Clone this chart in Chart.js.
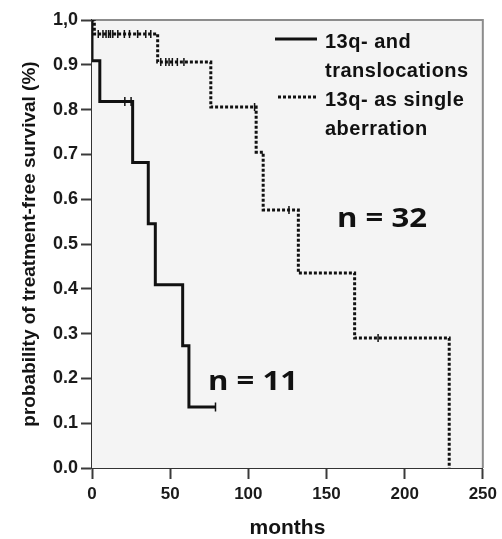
<!DOCTYPE html>
<html lang="en">
<head>
    <meta charset="UTF-8">
    <title>Treatment-free survival</title>
    <script src="https://cdn.jsdelivr.net/npm/chart.js"></script>
    <style>
        html, body { margin: 0; padding: 0; background: #fff; }
        #box { width: 502px; height: 539px; }
    </style>
</head>
<body>
    <div id="box">
        <canvas id="myChart" width="502" height="539"></canvas>
    </div>
</body>
</html>
<script>

    // 13q- and translocations (n = 11)
    const transMonths = [0, 0, 5, 26, 36, 40.5, 58, 62, 79];
    const transSurv   = [1, 0.909, 0.818, 0.682, 0.545, 0.409, 0.273, 0.136, 0.136];
    const transCensMonths = [21, 25, 79];
    const transCensSurv   = [0.818, 0.818, 0.136];

    // 13q- as single aberration (n = 32)
    const singleMonths = [0, 1.5, 42, 76, 105, 109.5, 132, 168, 228.5];
    const singleSurv   = [1, 0.969, 0.906, 0.806, 0.705, 0.576, 0.435, 0.29, 0];
    const singleCensMonths = [4, 7, 9, 10.6, 11.8, 13.3, 16.5, 20.7, 24, 29.2, 34.4, 37.6,
                              44, 47.2, 49.3, 51.4, 54.6, 58.8, 104, 126, 183];
    const singleCensSurv   = [0.969, 0.969, 0.969, 0.969, 0.969, 0.969, 0.969, 0.969, 0.969, 0.969, 0.969, 0.969,
                              0.906, 0.906, 0.906, 0.906, 0.906, 0.906, 0.806, 0.576, 0.29];

    const xTicks = [0, 50, 100, 150, 200, 250];
    const yTicks = [0, 0.1, 0.2, 0.3, 0.4, 0.5, 0.6, 0.7, 0.8, 0.9, 1.0];

    const legendLabels = [["13q- and", "translocations"], ["13q- as single", "aberration"]];
    const groupSizes = ["n = 11", "n = 32"];

    const pts = (xs, ys) => xs.map((x, i) => ({ x: x, y: ys[i] }));
    const ink = '#111';

    Chart.defaults.font.family = '"Liberation Sans", Arial, sans-serif';
    Chart.defaults.font.weight = 'bold';
    Chart.defaults.color = '#141414';

    const panel = {
        id: 'panel',
        beforeDatasetsDraw(chart) {
            const a = chart.chartArea, ctx = chart.ctx;
            ctx.save();
            ctx.fillStyle = '#f4f4f4';
            ctx.fillRect(a.left, a.top, a.right - a.left, a.bottom - a.top);
            ctx.strokeStyle = '#8c8c8c';
            ctx.lineWidth = 2;
            ctx.beginPath();
            ctx.moveTo(a.left, a.top);
            ctx.lineTo(a.right, a.top);
            ctx.lineTo(a.right, a.bottom);
            ctx.stroke();
            ctx.restore();
        },
        afterDraw(chart) {
            const a = chart.chartArea, ctx = chart.ctx;
            ctx.save();
            // legend
            ctx.strokeStyle = ink;
            ctx.lineWidth = 3;
            ctx.beginPath();
            ctx.moveTo(a.left + 183, a.top + 19);
            ctx.lineTo(a.left + 225, a.top + 19);
            ctx.stroke();
            ctx.setLineDash([3, 2]);
            ctx.beginPath();
            ctx.moveTo(a.left + 186, a.top + 77);
            ctx.lineTo(a.left + 225, a.top + 77);
            ctx.stroke();
            ctx.setLineDash([]);

            ctx.fillStyle = ink;
            ctx.font = 'bold 20px "Liberation Sans", Arial, sans-serif';
            ctx.letterSpacing = '0.5px';
            ctx.textBaseline = 'alphabetic';
            const lines = legendLabels[0].concat(legendLabels[1]);
            lines.forEach((t, i) => ctx.fillText(t, a.left + 233, a.top + 28 + i * 29));
            ctx.letterSpacing = '0px';

            // group sizes
            ctx.font = 'bold 27px "Open Sans", Lato, sans-serif';
            const spots = [[a.left + 116, a.top + 370], [a.left + 245, a.top + 207]];
            groupSizes.forEach((t, i) => {
                const w = ctx.measureText(t).width;
                ctx.save();
                ctx.translate(spots[i][0], spots[i][1]);
                ctx.scale(90 / w, 1);
                ctx.fillText(t, 0, 0);
                ctx.restore();
            });
            ctx.restore();
        }
    };

    const config = {
        type: 'scatter',
        data: {
            datasets: [
                {
                    label: 'single',
                    data: pts(singleMonths, singleSurv),
                    showLine: true,
                    stepped: 'before',
                    borderColor: ink,
                    borderWidth: 3,
                    borderDash: [3, 2],
                    pointRadius: 0
                },
                {
                    label: 'trans',
                    data: pts(transMonths, transSurv),
                    showLine: true,
                    stepped: 'before',
                    borderColor: ink,
                    borderWidth: 3,
                    pointRadius: 0
                },
                {
                    label: 'single censored',
                    data: pts(singleCensMonths, singleCensSurv),
                    pointStyle: 'line',
                    rotation: 90,
                    pointRadius: 4,
                    borderColor: ink,
                    borderWidth: 1.5
                },
                {
                    label: 'trans censored',
                    data: pts(transCensMonths, transCensSurv),
                    pointStyle: 'line',
                    rotation: 90,
                    pointRadius: 4.5,
                    borderColor: ink,
                    borderWidth: 1.5
                }
            ]
        },
        options: {
            responsive: false,
            animation: false,
            events: [],
            layout: { padding: { top: 20, right: 16, left: 0, bottom: 0 } },
            plugins: { legend: { display: false }, tooltip: { enabled: false } },
            scales: {
                x: {
                    type: 'linear',
                    min: 0,
                    max: 250,
                    afterBuildTicks: s => { s.ticks = xTicks.map(v => ({ value: v })); },
                    afterFit: s => { s.height = 71; },
                    ticks: { font: { size: 17, weight: 'bold' }, padding: 5, color: '#1a1a1a' },
                    grid: { drawOnChartArea: false, drawTicks: true, tickLength: 11, tickColor: '#3a3a3a', tickWidth: 2 },
                    border: { display: true, color: '#333', width: 2 },
                    title: { display: true, text: 'months', font: { size: 21, weight: 'bold', lineHeight: 1 }, padding: 0, color: '#141414' }
                },
                y: {
                    type: 'linear',
                    min: 0,
                    max: 1,
                    afterBuildTicks: s => { s.ticks = yTicks.map(v => ({ value: v })); },
                    afterFit: s => { s.width = 92; },
                    ticks: {
                        font: { size: 18, weight: 'bold' },
                        padding: 3,
                        color: '#1a1a1a',
                        callback: v => v === 1 ? '1,0' : v.toFixed(1)
                    },
                    grid: { drawOnChartArea: false, drawTicks: true, tickLength: 11, tickColor: '#3a3a3a', tickWidth: 2 },
                    border: { display: true, color: '#333', width: 2 },
                    title: {
                        display: true,
                        text: 'probability of treatment-free survival (%)',
                        font: { size: 19, weight: 'bold', lineHeight: 1 },
                        padding: { top: 20, bottom: 0 },
                        color: '#141414'
                    }
                }
            }
        },
        plugins: [panel]
    };

    const myChart = new Chart(document.getElementById('myChart'), config);

</script>
